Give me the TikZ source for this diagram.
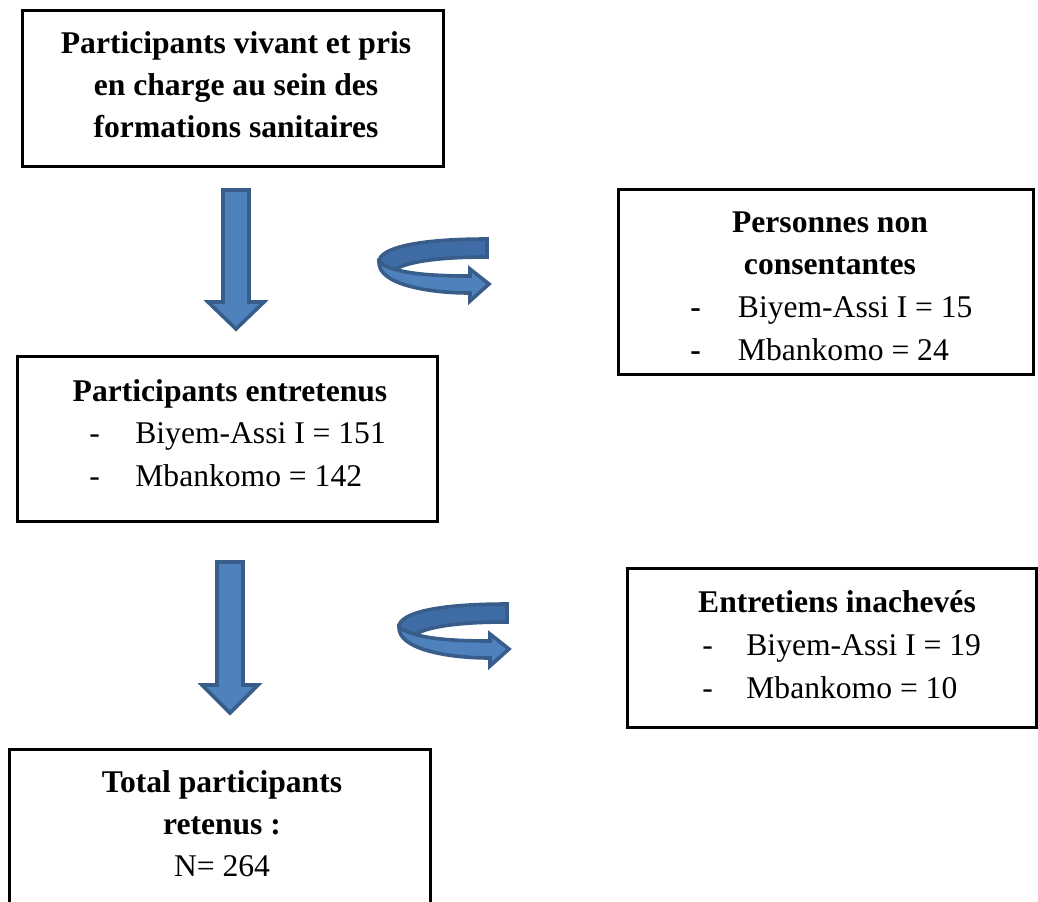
\documentclass[tikz,border=0pt]{standalone}
\usepackage{fontspec}
\setmainfont{Liberation Serif}
\usetikzlibrary{calc,positioning,fit}
\definecolor{bleu}{HTML}{4F81BD}
\definecolor{bleufonce}{HTML}{3F6CA5}
\definecolor{bordbleu}{HTML}{385D8A}
\newcommand{\ligne}[1]{\makebox[23pt][l]{-}#1}
\newcommand{\flechebas}[4]{% x, haut, base de la tete, pointe
  \draw[fleche] ({#1-13},#2) -- ({#1+13},#2) -- ({#1+13},#3) -- ({#1+28},#3)
    -- (#1,#4) -- ({#1-28},#3) -- ({#1-13},#3) -- cycle;}
\newcommand{\flechecourbe}[2]{% coin haut gauche
  \begin{scope}[shift={(#1,#2)}]
    \draw[fleche, fill=bleufonce] (110,2) .. controls (40,2) and (2,11) .. (2,25)
      -- (16,34) .. controls (27,25) and (60,20) .. (110,20) -- cycle;
    \draw[fleche] (2,25) .. controls (1,47) and (50,56) .. (93,56) -- (93,64)
      -- (112,47) -- (93,32) -- (93,39) .. controls (50,39) and (16,36) .. (2,25) -- cycle;
  \end{scope}}
\tikzset{
  cadre/.style={draw, line width=1.5pt, inner sep=0pt},
  titre/.style={font=\fontsize{15.8}{20.8}\selectfont\bfseries, anchor=base, align=center, inner sep=0pt},
  liste/.style={font=\fontsize{15.8}{21.5}\selectfont, anchor=base west, align=left, inner sep=0pt},
  fleche/.style={draw=bordbleu, fill=bleu, line width=1.8pt, line join=miter},
}
\begin{document}
\begin{tikzpicture}[x=0.5pt,y=-0.5pt]
  \useasboundingbox (0,0) rectangle (1038,901);

  % cadres
  \coordinate (c1a) at (22,10);   \coordinate (c1b) at (443,166);
  \coordinate (c2a) at (618,189); \coordinate (c2b) at (1033,374);
  \coordinate (c3a) at (17,356);  \coordinate (c3b) at (437,521);
  \coordinate (c4a) at (627,568); \coordinate (c4b) at (1036,727);
  \coordinate (c5a) at (9,749);   \coordinate (c5b) at (430,920);
  \node[cadre, fit=(c1a)(c1b)] (depart) {};
  \node[cadre, fit=(c2a)(c2b)] (refus) {};
  \node[cadre, fit=(c3a)(c3b)] (entretenus) {};
  \node[cadre, fit=(c4a)(c4b)] (inacheves) {};
  \node[cadre, fit=(c5a)(c5b)] (total) {};

  % textes (ancre base = ligne du bas)
  \node[titre] (t1) at (236,137) {Participants vivant et pris\\en charge au sein des\\formations sanitaires};
  \node[titre] (t2) at (830,274) {Personnes non\\consentantes};
  \node[liste] (l2) at (690,360) {\textbf{-}\hspace{18.5pt}Biyem-Assi I = 15\\\textbf{-}\hspace{18.5pt}Mbankomo = 24};
  \node[titre] (t3) at (230,401) {Participants entretenus};
  \node[liste] (l3) at (89,486) {\ligne{Biyem-Assi I = 151}\\\ligne{Mbankomo = 142}};
  \node[titre] (t4) at (837,612) {Entretiens inachevés};
  \node[liste] (l4) at (702,698) {\makebox[22pt][l]{-}Biyem-Assi I = 19\\\makebox[22pt][l]{-}Mbankomo = 10};
  \node[titre] (t5) at (222,876) {Total participants\\retenus :\\{\mdseries N= 264}};

  % fleches
  \flechebas{236}{190}{302}{329}
  \flechebas{230}{562}{685}{713}
  \flechecourbe{377}{237}
  \flechecourbe{397}{602}
\end{tikzpicture}
\end{document}
